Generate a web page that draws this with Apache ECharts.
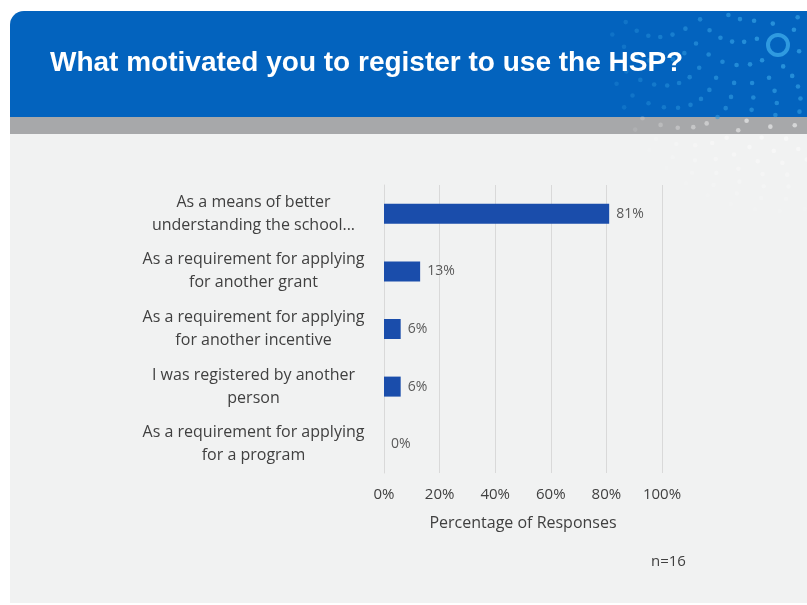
<!DOCTYPE html>
<html>
<head>
<meta charset="utf-8">
<script src="https://cdn.jsdelivr.net/npm/echarts@6/dist/echarts.min.js"></script>
<style>
  html, body { margin: 0; padding: 0; background: #ffffff; }
  #main { width: 807px; height: 605px; }
</style>
</head>
<body>
<div id="main"></div>
<script>
// data
var categories = [
  'As a means of better\nunderstanding the school...',
  'As a requirement for applying\nfor another grant',
  'As a requirement for applying\nfor another incentive',
  'I was registered by another\nperson',
  'As a requirement for applying\nfor a program'
];
var percentValues = [81, 13, 6, 6, 0];
var tickValues = [0, 20, 40, 60, 80, 100];
var sampleNote = 'n=16';
var titleText = 'What motivated you to register to use the HSP?';

var chart = echarts.init(document.getElementById('main'));

// decorative dot burst in the top right corner of the slide
var dots = [];
var cx = 778, cy = 45;
for (var r = 22; r <= 175; r += 12) {
  var n = Math.round(r / 4);
  for (var k = 0; k < n; k++) {
    var a = (k / n) * Math.PI * 2 + r * 0.013;
    var x = cx + r * Math.cos(a), y = cy + r * Math.sin(a);
    if (x < 12 || x > 807 || y < 13 || y > 600) continue;
    var fade = Math.max(0, 1 - r / 185);
    var onBlue = y < 117;
    dots.push({
      type: 'circle',
      silent: true,
      shape: { cx: x, cy: y, r: 2.3 },
      style: {
        fill: onBlue ? '#2f9ae0' : '#ffffff',
        opacity: onBlue ? 0.7 * fade + 0.2 : 0.95 * fade
      }
    });
  }
}

var graphics = [
  { type: 'rect', silent: true, z: -10,
    shape: { x: 10, y: 11, width: 797, height: 592, r: [14, 0, 0, 0] },
    style: { fill: '#f1f2f2' } },
  { type: 'rect', silent: true, z: -9,
    shape: { x: 10, y: 11, width: 797, height: 107, r: [14, 0, 0, 0] },
    style: { fill: '#0363be' } },
  { type: 'rect', silent: true, z: -9,
    shape: { x: 10, y: 117, width: 797, height: 17 },
    style: { fill: '#a7a8aa' } },
  { type: 'group', z: -8, silent: true, children: dots },
  { type: 'circle', silent: true, z: -7,
    shape: { cx: cx, cy: cy, r: 10 },
    style: { fill: 'none', stroke: '#2f9ae0', lineWidth: 4 } },
  { type: 'text', left: 50, top: 49, z: 5,
    style: { text: titleText, fill: '#ffffff', font: 'bold 28px "Liberation Sans", Arial, sans-serif' } },
  { type: 'text', left: 651, top: 554, z: 5,
    style: { text: sampleNote, fill: '#404040', font: '15px "Open Sans", sans-serif' } }
];

chart.setOption({
  backgroundColor: 'transparent',
  animation: false,
  graphic: graphics,
  grid: { left: 384, right: 145, top: 185, bottom: 132, containLabel: false },
  xAxis: {
    type: 'value',
    min: 0,
    max: 100,
    interval: 20,
    name: 'Percentage of Responses',
    nameLocation: 'middle',
    nameGap: 42,
    nameTextStyle: { color: '#404040', fontSize: 16, fontFamily: 'Open Sans' },
    axisLine: { show: false },
    axisTick: { show: false },
    axisLabel: {
      color: '#404040',
      fontSize: 15,
      fontFamily: 'Open Sans',
      margin: 14,
      formatter: function (v) { return tickValues.indexOf(v) >= 0 ? v + '%' : ''; }
    },
    splitLine: { show: true, lineStyle: { color: '#d9d9d9', width: 1 } }
  },
  yAxis: {
    type: 'category',
    inverse: true,
    data: categories,
    axisLine: { show: true, lineStyle: { color: '#d9d9d9' } },
    axisTick: { show: false },
    axisLabel: {
      margin: 17,
      formatter: function (v) {
        return v.split('\n').map(function (s) { return '{c|' + s + '}'; }).join('\n');
      },
      rich: {
        c: { width: 227, align: 'center', color: '#404040', fontSize: 16,
             fontFamily: 'Open Sans', lineHeight: 23 }
      }
    }
  },
  series: [{
    type: 'bar',
    data: percentValues,
    barWidth: 20,
    itemStyle: { color: '#1a4dab' },
    label: {
      show: true,
      position: 'right',
      distance: 7,
      color: '#595959',
      fontSize: 14,
      fontFamily: 'Open Sans',
      formatter: '{c}%'
    }
  }]
});
</script>
</body>
</html>
